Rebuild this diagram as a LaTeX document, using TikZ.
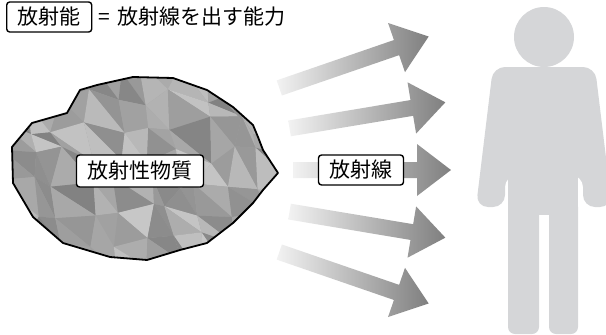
\documentclass[tikz,border=0pt]{standalone}
\usepackage{fontspec}
\setmainfont{Noto Sans CJK JP}
\usepackage{tikz}
\usetikzlibrary{positioning,calc}
\definecolor{personfill}{HTML}{D5D6D8}
\tikzset{
    tag/.style={
        rectangle,
        rounded corners=3pt,
        draw=black,
        line width=1.4pt,
        fill=white,
        inner xsep=11pt,
        inner ysep=0pt,
        minimum height=30pt,
        font=\fontsize{21}{24}\selectfont,
    },
    plain/.style={
        inner sep=0pt,
        font=\fontsize{21}{24}\selectfont,
    },
    ray/.style={
        left color=black!5,
        right color=black!50,
    },
    person/.style={
        fill=personfill,
    },
    rock-edge/.style={
        draw=black,
        line width=1.8pt,
        line join=round,
    },
}

\begin{document}
\begin{tikzpicture}[x=1pt,y=-1pt]
    \useasboundingbox (0,0) rectangle (606,335);

    % definition line
    \node [tag, anchor=west, minimum height=30pt] (def) at (6,17) {放射能\hspace{4pt}};
    \node [plain, right=6pt of def] (defText) {=\hspace{7pt}放射線を出す能力};

    % the rock
    \path [save path=\rockpath] (12,147) -- (32,123) -- (67,113) -- (80,90) -- (97,85)
        -- (133,77) -- (173,78) -- (207,90) -- (233,107) -- (253,125) -- (258,137)
        -- (263,150) -- (278,173) -- (263,190) -- (253,203) -- (233,223) -- (207,243)
        -- (180,250) -- (147,260) -- (110,257) -- (63,243) -- (33,217) -- (13,183) -- cycle;
    \begin{scope}
        \clip [use path=\rockpath];
        \fill [black!36] (0,60) rectangle (300,280);
        \pgfmathsetseed{11}
        \foreach \i in {0,...,10}{
            \foreach \j in {0,...,7}{
                \pgfmathsetmacro\jx{\i*29+rand*10}
                \pgfmathsetmacro\jy{68+\j*29+rand*10}
                \coordinate (m-\i-\j) at (\jx,\jy);
            }
        }
        \foreach \i in {0,...,9}{
            \foreach \j in {0,...,6}{
                \pgfmathtruncatemacro\ii{\i+1}
                \pgfmathtruncatemacro\jj{\j+1}
                \pgfmathtruncatemacro\sa{22+rnd*28}
                \pgfmathtruncatemacro\sb{22+rnd*28}
                \fill [black!\sa] (m-\i-\j) -- (m-\ii-\j) -- (m-\ii-\jj) -- cycle;
                \fill [black!\sb] (m-\i-\j) -- (m-\ii-\jj) -- (m-\i-\jj) -- cycle;
            }
        }
    \end{scope}
    \path [rock-edge, use path=\rockpath];
    \node [tag, minimum height=32pt] (rock) at (140,171) {放射性物質};

    % rays
    \coordinate (src) at (41,170);
    \foreach \a in {-19,-9.5,0,9.5,19}{
        \begin{scope}[shift={($(src)+(\a:252)$)}, rotate=-\a]
            \shade [ray] (0,-8) -- (124,-8) -- (124,-26) -- (158,0)
                -- (124,26) -- (124,8) -- (0,8) -- cycle;
        \end{scope}
    }
    \node [tag] (rays) at (361,170) {放射線\hspace{3pt}};

    % person
    \fill [person] (544,37) circle (30pt);
    \fill [person] (508,67) rectangle (578,215);
    \fill [person, rounded corners=7pt] (508,200) -- (508,334) -- (539,334) -- (539,200) -- cycle;
    \fill [person, rounded corners=7pt] (549,200) -- (549,334) -- (578,334) -- (578,200) -- cycle;
    \fill [person, rounded corners=12pt] (493,67) -- (530,67) -- (530,175) -- (505,175)
        -- (505,207) -- (476,207) -- cycle;
    \fill [person, rounded corners=12pt] (595,67) -- (558,67) -- (558,175) -- (583,175)
        -- (583,207) -- (612,207) -- cycle;
\end{tikzpicture}
\end{document}
